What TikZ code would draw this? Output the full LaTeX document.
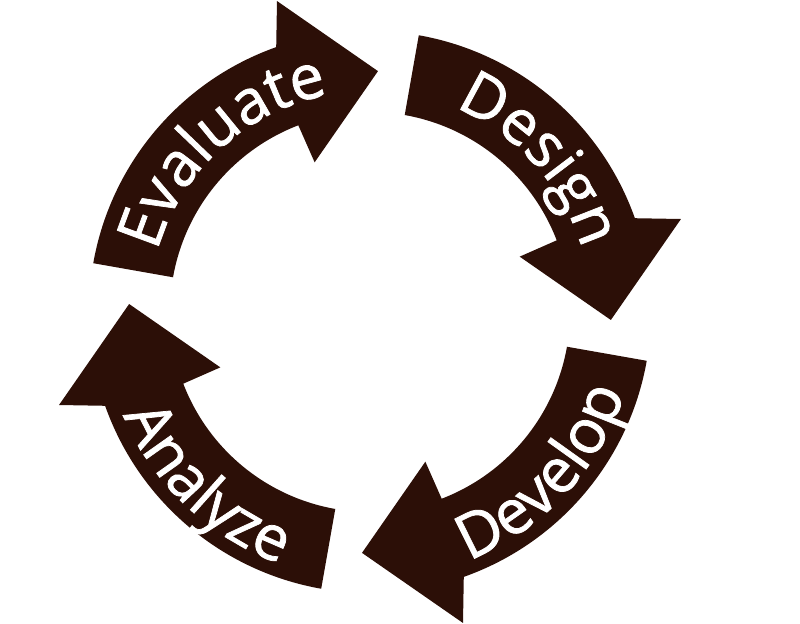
\documentclass[tikz,border=0pt]{standalone}
\usepackage{fontspec}
\setmainfont{Open Sans}
\newfontfamily\labelfamily{Open Sans}[FakeBold=1.2]
\usetikzlibrary{decorations.text}
\definecolor{cyclebrown}{HTML}{2C0F07}
\newcommand{\labelfont}{\labelfamily\fontsize{44}{44}\selectfont}
\tikzset{
  cyclearrow/.style={fill=cyclebrown},
  cyclelabel/.style={decorate, decoration={text along path, text={|\labelfont|#1}, text align=center, text color=white}}
}

\begin{document}
\begin{tikzpicture}
\useasboundingbox (-9.25,-7.775) rectangle (10.75,7.8);
\coordinate (O) at (0,0);
% four arrows, each turned by 90 degrees
\foreach \r in {0,-90,-180,-270} {
  \fill[cyclearrow, rotate=\r] (170:7.025) arc[start angle=170, end angle=109.5, radius=7.025] -- (106.65:8.115) -- (88.1:6.025) -- (110.3:3.99) -- (111:5) arc[start angle=111, end angle=170, radius=5] -- cycle;
}
% labels on top run clockwise, on bottom counter-clockwise
\path[cyclelabel=Evaluate] (174:5.53) arc[start angle=174, end angle=91, radius=5.53];
\path[cyclelabel=Design] (83.5:5.53) arc[start angle=83.5, end angle=0.5, radius=5.53];
\path[cyclelabel=Develop] (-85:6.68) arc[start angle=-85, end angle=-1, radius=6.68];
\path[cyclelabel=Analyze] (184.5:6.68) arc[start angle=184.5, end angle=268.5, radius=6.68];
\end{tikzpicture}
\end{document}
